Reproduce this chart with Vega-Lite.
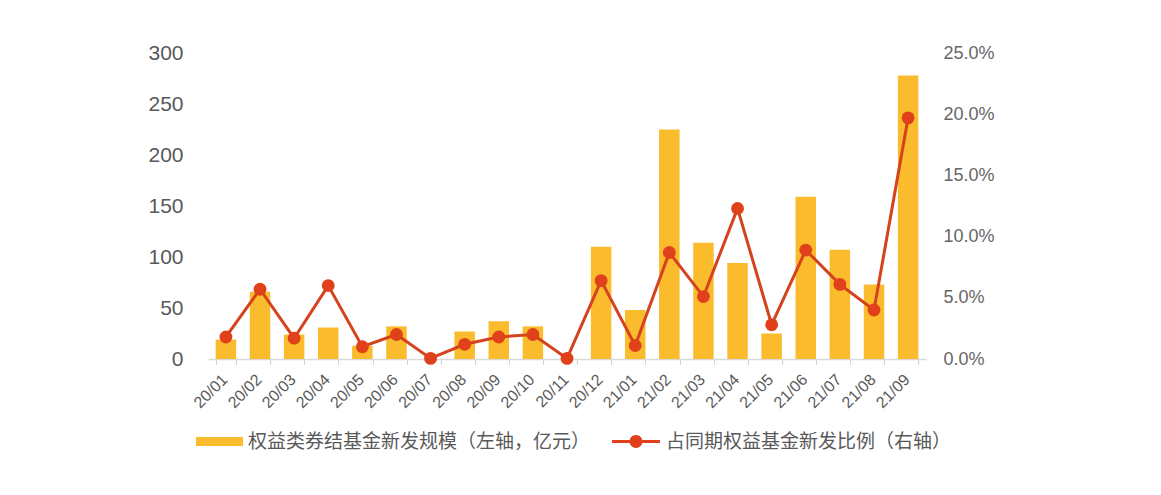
{
  "$schema": "https://vega.github.io/schema/vega-lite/v6.json",
  "width": 718,
  "height": 306,
  "autosize": {"type": "none"},
  "padding": {"left": 208, "top": 53, "right": 235, "bottom": 136},
  "background": "white",
  "data": {
    "values": [
      {"month": "20/01", "scale": 19, "ratio": 0.018},
      {"month": "20/02", "scale": 66, "ratio": 0.057},
      {"month": "20/03", "scale": 24, "ratio": 0.017},
      {"month": "20/04", "scale": 31, "ratio": 0.060},
      {"month": "20/05", "scale": 13, "ratio": 0.010},
      {"month": "20/06", "scale": 32, "ratio": 0.020},
      {"month": "20/07", "scale": 0, "ratio": 0.0005},
      {"month": "20/08", "scale": 27, "ratio": 0.012},
      {"month": "20/09", "scale": 37, "ratio": 0.018},
      {"month": "20/10", "scale": 32, "ratio": 0.020},
      {"month": "20/11", "scale": 0, "ratio": 0.0005},
      {"month": "20/12", "scale": 110, "ratio": 0.064},
      {"month": "21/01", "scale": 48, "ratio": 0.011},
      {"month": "21/02", "scale": 225, "ratio": 0.087},
      {"month": "21/03", "scale": 114, "ratio": 0.051},
      {"month": "21/04", "scale": 94, "ratio": 0.123},
      {"month": "21/05", "scale": 25, "ratio": 0.028},
      {"month": "21/06", "scale": 159, "ratio": 0.089},
      {"month": "21/07", "scale": 107, "ratio": 0.061},
      {"month": "21/08", "scale": 73, "ratio": 0.040},
      {"month": "21/09", "scale": 278, "ratio": 0.197}
    ]
  },
  "encoding": {
    "x": {
      "field": "month",
      "type": "ordinal",
      "sort": null,
      "scale": {"paddingInner": 0.4, "paddingOuter": 0.225},
      "axis": {
        "title": null,
        "labelAngle": -45,
        "labelFont": "Liberation Sans",
        "labelFontSize": 16,
        "labelColor": "#595959",
        "labelPadding": 7,
        "labelOffset": -7,
        "domainColor": "#D9D9D9",
        "domainWidth": 1.5,
        "tickColor": "#D0D0D0",
        "tickSize": 5,
        "tickBand": "extent"
      }
    }
  },
  "layer": [
    {
      "mark": {"type": "bar", "color": "#FABB2C"},
      "encoding": {
        "y": {
          "field": "scale",
          "type": "quantitative",
          "scale": {"domain": [0, 300]},
          "axis": {
            "orient": "left",
            "title": null,
            "values": [0, 50, 100, 150, 200, 250, 300],
            "grid": false,
            "domain": false,
            "ticks": false,
            "labelFont": "Liberation Sans",
            "labelFontSize": 21,
            "labelColor": "#595959",
            "labelPadding": 25
          }
        },
        "color": {
          "datum": "权益类券结基金新发规模（左轴，亿元）",
          "scale": {"range": ["#FABB2C"]},
          "legend": {
            "orient": "none",
            "legendX": -12,
            "legendY": 365,
            "title": null,
            "padding": 0,
            "symbolType": "M-1,-0.19H1V0.19H-1Z",
            "symbolSize": 2209,
            "symbolStrokeWidth": 0,
            "labelFont": "Noto Sans CJK SC",
            "labelFontSize": 19,
            "labelColor": "#595959",
            "labelOffset": 5,
            "labelLimit": 600
          }
        }
      }
    },
    {
      "encoding": {
        "y": {
          "field": "ratio",
          "type": "quantitative",
          "scale": {"domain": [0, 0.25]},
          "axis": {
            "orient": "right",
            "title": null,
            "format": ".1%",
            "values": [0, 0.05, 0.1, 0.15, 0.2, 0.25],
            "grid": false,
            "domain": false,
            "ticks": false,
            "labelFont": "Liberation Sans",
            "labelFontSize": 18,
            "labelColor": "#666666",
            "labelPadding": 17
          }
        }
      },
      "layer": [
        {
          "mark": {"type": "line", "color": "#D5421E", "strokeWidth": 3}
        },
        {
          "mark": {"type": "circle", "size": 165, "opacity": 1},
          "encoding": {
            "fill": {
              "datum": "占同期权益基金新发比例（右轴）",
              "scale": {"range": ["#E0401A"]},
              "legend": {
                "orient": "none",
                "legendX": 404,
                "legendY": 364.5,
                "title": null,
                "padding": 0,
                "symbolType": "M-1,-0.065H1V0.065H-1Z M0.27,0A0.27,0.27 0 1 1 -0.27,0A0.27,0.27 0 1 1 0.27,0Z",
                "symbolSize": 2304,
                "symbolStrokeWidth": 0,
                "symbolOpacity": 1,
                "labelFont": "Noto Sans CJK SC",
                "labelFontSize": 19,
                "labelColor": "#595959",
                "labelOffset": 6,
                "labelLimit": 600
              }
            }
          }
        }
      ]
    }
  ],
  "resolve": {"scale": {"y": "independent"}},
  "config": {"view": {"stroke": null}, "axis": {"grid": false}}
}
